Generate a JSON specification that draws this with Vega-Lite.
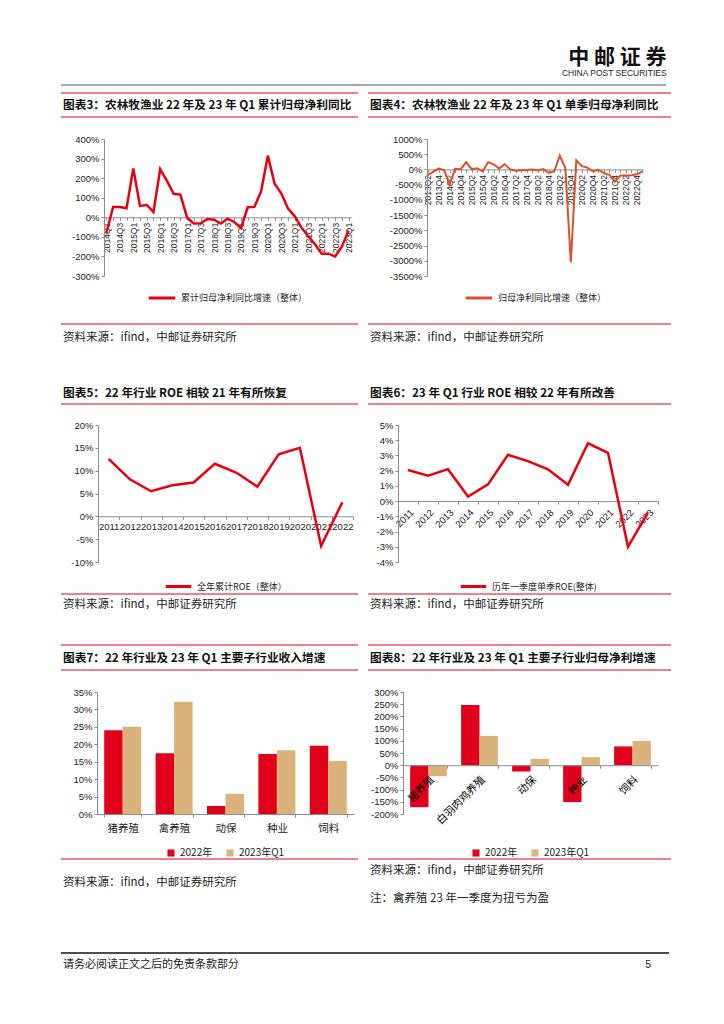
{
  "$schema": "https://vega.github.io/schema/vega-lite/v6.json",
  "padding": {"left": 60, "top": 46, "right": 0, "bottom": 0},
  "background": "white",
  "datasets": {
    "c3": [
      {"q": "2014Q1", "v": -80}, {"q": "2014Q2", "v": 53}, {"q": "2014Q3", "v": 53}, {"q": "2014Q4", "v": 46},
      {"q": "2015Q1", "v": 250}, {"q": "2015Q2", "v": 58}, {"q": "2015Q3", "v": 63}, {"q": "2015Q4", "v": 27},
      {"q": "2016Q1", "v": 246}, {"q": "2016Q2", "v": 186}, {"q": "2016Q3", "v": 120}, {"q": "2016Q4", "v": 116},
      {"q": "2017Q1", "v": -2}, {"q": "2017Q2", "v": -32}, {"q": "2017Q3", "v": -31}, {"q": "2017Q4", "v": -9},
      {"q": "2018Q1", "v": -12}, {"q": "2018Q2", "v": -32}, {"q": "2018Q3", "v": -7}, {"q": "2018Q4", "v": -24},
      {"q": "2019Q1", "v": -55}, {"q": "2019Q2", "v": 51}, {"q": "2019Q3", "v": 53}, {"q": "2019Q4", "v": 133},
      {"q": "2020Q1", "v": 315}, {"q": "2020Q2", "v": 171}, {"q": "2020Q3", "v": 121}, {"q": "2020Q4", "v": 44},
      {"q": "2021Q1", "v": 5}, {"q": "2021Q2", "v": -53}, {"q": "2021Q3", "v": -97}, {"q": "2021Q4", "v": -138},
      {"q": "2022Q1", "v": -186}, {"q": "2022Q2", "v": -186}, {"q": "2022Q3", "v": -200}, {"q": "2022Q4", "v": -149},
      {"q": "2023Q1", "v": -67}
    ],
    "c4": [
      {"q": "2013Q2", "v": -190}, {"q": "2013Q3", "v": -80}, {"q": "2013Q4", "v": 30},
      {"q": "2014Q1", "v": -20}, {"q": "2014Q2", "v": -500}, {"q": "2014Q3", "v": 20}, {"q": "2014Q4", "v": 10},
      {"q": "2015Q1", "v": 240}, {"q": "2015Q2", "v": 10}, {"q": "2015Q3", "v": 40}, {"q": "2015Q4", "v": -60},
      {"q": "2016Q1", "v": 240}, {"q": "2016Q2", "v": 170}, {"q": "2016Q3", "v": 30}, {"q": "2016Q4", "v": 170},
      {"q": "2017Q1", "v": 0}, {"q": "2017Q2", "v": -40}, {"q": "2017Q3", "v": -30}, {"q": "2017Q4", "v": -20},
      {"q": "2018Q1", "v": 0}, {"q": "2018Q2", "v": -30}, {"q": "2018Q3", "v": 10}, {"q": "2018Q4", "v": -110},
      {"q": "2019Q1", "v": -60}, {"q": "2019Q2", "v": 450}, {"q": "2019Q3", "v": 50}, {"q": "2019Q4", "v": -3050},
      {"q": "2020Q1", "v": 300}, {"q": "2020Q2", "v": 110}, {"q": "2020Q3", "v": 60}, {"q": "2020Q4", "v": -60},
      {"q": "2021Q1", "v": -10}, {"q": "2021Q2", "v": -120}, {"q": "2021Q3", "v": -180}, {"q": "2021Q4", "v": -400},
      {"q": "2022Q1", "v": -200}, {"q": "2022Q2", "v": -200}, {"q": "2022Q3", "v": -190}, {"q": "2022Q4", "v": -160},
      {"q": "2023Q1", "v": -70}
    ],
    "c5": [
      {"year": "2011", "roe": 12.6}, {"year": "2012", "roe": 8.1}, {"year": "2013", "roe": 5.5},
      {"year": "2014", "roe": 6.8}, {"year": "2015", "roe": 7.4}, {"year": "2016", "roe": 11.5},
      {"year": "2017", "roe": 9.6}, {"year": "2018", "roe": 6.5}, {"year": "2019", "roe": 13.6},
      {"year": "2020", "roe": 15.0}, {"year": "2021", "roe": -6.5}, {"year": "2022", "roe": 3.1}
    ],
    "c6": [
      {"year": "2011", "roe": 2.04}, {"year": "2012", "roe": 1.67}, {"year": "2013", "roe": 2.1},
      {"year": "2014", "roe": 0.3}, {"year": "2015", "roe": 1.1}, {"year": "2016", "roe": 3.04},
      {"year": "2017", "roe": 2.63}, {"year": "2018", "roe": 2.09}, {"year": "2019", "roe": 1.07},
      {"year": "2020", "roe": 3.8}, {"year": "2021", "roe": 3.17}, {"year": "2022", "roe": -3.0},
      {"year": "2023", "roe": -0.74}
    ],
    "c7": [
      {"seg": "猪养殖", "series": "2022年", "v": 24.0}, {"seg": "猪养殖", "series": "2023年Q1", "v": 25.0},
      {"seg": "禽养殖", "series": "2022年", "v": 17.4}, {"seg": "禽养殖", "series": "2023年Q1", "v": 32.2},
      {"seg": "动保", "series": "2022年", "v": 2.3}, {"seg": "动保", "series": "2023年Q1", "v": 5.8},
      {"seg": "种业", "series": "2022年", "v": 17.2}, {"seg": "种业", "series": "2023年Q1", "v": 18.3},
      {"seg": "饲料", "series": "2022年", "v": 19.6}, {"seg": "饲料", "series": "2023年Q1", "v": 15.2}
    ],
    "c8": [
      {"seg": "猪养殖", "series": "2022年", "v": -172}, {"seg": "猪养殖", "series": "2023年Q1", "v": -45},
      {"seg": "白羽肉鸡养殖", "series": "2022年", "v": 247}, {"seg": "白羽肉鸡养殖", "series": "2023年Q1", "v": 120},
      {"seg": "动保", "series": "2022年", "v": -26}, {"seg": "动保", "series": "2023年Q1", "v": 26},
      {"seg": "种业", "series": "2022年", "v": -151}, {"seg": "种业", "series": "2023年Q1", "v": 33},
      {"seg": "饲料", "series": "2022年", "v": 77}, {"seg": "饲料", "series": "2023年Q1", "v": 100}
    ]
  },
  "columns": 1,
  "align": "none",
  "spacing": 6,
  "concat": [
    {
      "width": 605, "height": 1,
      "title": {"text": "中 邮 证 券", "subtitle": "CHINA POST SECURITIES", "anchor": "end", "font": "Noto Sans CJK SC", "fontWeight": "bold", "fontSize": 21, "color": "#111", "subtitleFont": "Liberation Sans", "subtitleFontSize": 8.5, "subtitleColor": "#222", "subtitlePadding": 1, "offset": 7},
      "data": {"values": [{}]},
      "mark": {"type": "rule", "color": "#555", "strokeWidth": 1.2},
      "encoding": {"y": {"datum": 0, "scale": {"domain": [0, 1]}, "axis": null}}
    },
    {
      "spacing": 8,
      "resolve": {"scale": {"x": "independent", "y": "independent", "color": "independent", "xOffset": "independent"}, "legend": {"color": "independent"}},
      "hconcat": [
        {
          "columns": 1,
          "align": "none",
          "spacing": 0,
          "resolve": {"scale": {"x": "independent", "y": "independent", "color": "independent", "xOffset": "independent"}, "legend": {"color": "independent"}},
          "concat": [
            {
              "width": 297, "height": 24,
              "data": {"values": [{"t": "图表3：农林牧渔业 22 年及 23 年 Q1 累计归母净利同比"}]},
              "layer": [
                {"mark": {"type": "rule", "color": "#E0001A", "strokeWidth": 1.2}, "encoding": {"y": {"datum": 0, "scale": {"domain": [0, 1]}, "axis": null}}},
                {"mark": {"type": "rule", "color": "#E0001A", "strokeWidth": 1.2}, "encoding": {"y": {"datum": 1, "scale": {"domain": [0, 1]}, "axis": null}}},
                {"mark": {"type": "text", "align": "left", "baseline": "middle", "font": "Noto Sans CJK SC", "fontWeight": "bold", "fontSize": 11.7, "color": "#111", "dx": 2}, "encoding": {"text": {"field": "t"}, "x": {"datum": 0, "scale": {"domain": [0, 1]}, "axis": null}, "y": {"datum": 0.5, "scale": {"domain": [0, 1]}, "axis": null}}}
              ]
            },
            {
              "spacing": 0,
              "resolve": {"scale": {"x": "independent", "y": "independent", "color": "independent"}, "legend": {"color": "independent"}},
              "hconcat": [
                {"width": 1, "height": 1, "data": {"values": [{}]}, "mark": {"type": "rule", "opacity": 0}, "encoding": {"y": {"datum": 0, "scale": {"domain": [0, 1]}, "axis": null}}},
                {
                  "width": 247, "height": 137,
                  "title": {"text": " ", "fontSize": 1, "offset": 15},
                  "data": {"name": "c3"},
                  "mark": {"type": "line", "strokeWidth": 2.5},
                  "encoding": {
                    "x": {"field": "q", "type": "ordinal", "sort": null, "title": null, "scale": {"type": "point", "padding": 0.35},
                      "axis": {"offset": -58.7, "labelAngle": -90, "labelFontSize": 8.5, "labelOverlap": false, "labelPadding": 2, "labelExpr": "indexof(datum.label, 'Q1') >= 0 || indexof(datum.label, 'Q3') >= 0 ? datum.label : ''"}},
                    "y": {"field": "v", "type": "quantitative", "title": null, "scale": {"domain": [-300, 400], "nice": false},
                      "axis": {"values": [-300, -200, -100, 0, 100, 200, 300, 400], "labelExpr": "datum.value + '%'", "minExtent": 42}},
                    "color": {"datum": "累计归母净利同比增速（整体）", "type": "nominal", "scale": {"range": ["#E60012"]},
                      "legend": {"title": null, "orient": "bottom", "offset": 7, "symbolType": "stroke", "symbolSize": 700, "symbolStrokeWidth": 3}}
                  }
                }
              ]
            },
            {
              "width": 297, "height": 28,
              "title": {"text": " ", "fontSize": 1, "offset": 18},
              "data": {"values": [{"t": "资料来源：ifind，中邮证券研究所"}]},
              "layer": [
                {"mark": {"type": "rule", "color": "#E0001A", "strokeWidth": 1}, "encoding": {"y": {"datum": 1, "scale": {"domain": [0, 1]}, "axis": null}}},
                {"mark": {"type": "text", "align": "left", "baseline": "middle", "font": "Noto Sans CJK SC", "fontSize": 11.5, "color": "#222", "dx": 2}, "encoding": {"text": {"field": "t"}, "x": {"datum": 0, "scale": {"domain": [0, 1]}, "axis": null}, "y": {"datum": 0.5, "scale": {"domain": [0, 1]}, "axis": null}}}
              ]
            },
            {
              "width": 297, "height": 22,
              "title": {"text": " ", "fontSize": 1, "offset": 29},
              "data": {"values": [{"t": "图表5：22 年行业 ROE 相较 21 年有所恢复"}]},
              "layer": [
                {"mark": {"type": "rule", "color": "#E0001A", "strokeWidth": 1.2}, "encoding": {"y": {"datum": 0, "scale": {"domain": [0, 1]}, "axis": null}}},
                {"mark": {"type": "text", "align": "left", "baseline": "middle", "font": "Noto Sans CJK SC", "fontWeight": "bold", "fontSize": 11.7, "color": "#111", "dx": 2}, "encoding": {"text": {"field": "t"}, "x": {"datum": 0, "scale": {"domain": [0, 1]}, "axis": null}, "y": {"datum": 0.5, "scale": {"domain": [0, 1]}, "axis": null}}}
              ]
            },
            {
              "spacing": 0,
              "resolve": {"scale": {"x": "independent", "y": "independent", "color": "independent"}, "legend": {"color": "independent"}},
              "hconcat": [
                {"width": 1, "height": 1, "data": {"values": [{}]}, "mark": {"type": "rule", "opacity": 0}, "encoding": {"y": {"datum": 0, "scale": {"domain": [0, 1]}, "axis": null}}},
                {
                  "width": 255, "height": 137,
                  "title": {"text": " ", "fontSize": 1, "offset": 14},
                  "data": {"name": "c5"},
                  "mark": {"type": "line", "strokeWidth": 2.5},
                  "encoding": {
                    "x": {"field": "year", "type": "ordinal", "sort": null, "title": null, "bandPosition": 0.5, "scale": {"type": "band", "paddingInner": 0, "paddingOuter": 0},
                      "axis": {"offset": -45.7, "labelAngle": 0, "labelFontSize": 9.5, "labelOverlap": false, "labelPadding": 2, "tickBand": "extent"}},
                    "y": {"field": "roe", "type": "quantitative", "title": null, "scale": {"domain": [-10, 20], "nice": false},
                      "axis": {"values": [-10, -5, 0, 5, 10, 15, 20], "labelExpr": "datum.value + '%'", "minExtent": 36}},
                    "color": {"datum": "全年累计ROE（整体）", "type": "nominal", "scale": {"range": ["#E60012"]},
                      "legend": {"title": null, "orient": "bottom", "offset": 10, "symbolType": "stroke", "symbolSize": 650, "symbolStrokeWidth": 3}}
                  }
                }
              ]
            },
            {
              "width": 297, "height": 22,
              "data": {"values": [{"t": "资料来源：ifind，中邮证券研究所"}]},
              "layer": [
                {"mark": {"type": "rule", "color": "#E0001A", "strokeWidth": 1}, "encoding": {"y": {"datum": 1, "scale": {"domain": [0, 1]}, "axis": null}}},
                {"mark": {"type": "text", "align": "left", "baseline": "middle", "font": "Noto Sans CJK SC", "fontSize": 11.5, "color": "#222", "dx": 2}, "encoding": {"text": {"field": "t"}, "x": {"datum": 0, "scale": {"domain": [0, 1]}, "axis": null}, "y": {"datum": 0.5, "scale": {"domain": [0, 1]}, "axis": null}}}
              ]
            },
            {
              "width": 297, "height": 25,
              "title": {"text": " ", "fontSize": 1, "offset": 27},
              "data": {"values": [{"t": "图表7：22 年行业及 23 年 Q1 主要子行业收入增速"}]},
              "layer": [
                {"mark": {"type": "rule", "color": "#E0001A", "strokeWidth": 1.2}, "encoding": {"y": {"datum": 0, "scale": {"domain": [0, 1]}, "axis": null}}},
                {"mark": {"type": "rule", "color": "#E0001A", "strokeWidth": 1.2}, "encoding": {"y": {"datum": 1, "scale": {"domain": [0, 1]}, "axis": null}}},
                {"mark": {"type": "text", "align": "left", "baseline": "middle", "font": "Noto Sans CJK SC", "fontWeight": "bold", "fontSize": 11.7, "color": "#111", "dx": 2}, "encoding": {"text": {"field": "t"}, "x": {"datum": 0, "scale": {"domain": [0, 1]}, "axis": null}, "y": {"datum": 0.5, "scale": {"domain": [0, 1]}, "axis": null}}}
              ]
            },
            {
              "spacing": 0,
              "resolve": {"scale": {"x": "independent", "y": "independent", "color": "independent", "xOffset": "independent"}, "legend": {"color": "independent"}},
              "hconcat": [
                {"width": 1, "height": 1, "data": {"values": [{}]}, "mark": {"type": "rule", "opacity": 0}, "encoding": {"y": {"datum": 0, "scale": {"domain": [0, 1]}, "axis": null}}},
                {
                  "width": 257, "height": 122,
                  "title": {"text": " ", "fontSize": 1, "offset": 15},
                  "data": {"name": "c7"},
                  "mark": {"type": "bar"},
                  "encoding": {
                    "x": {"field": "seg", "type": "nominal", "sort": null, "title": null, "scale": {"paddingInner": 0.28, "paddingOuter": 0.14},
                      "axis": {"labelAngle": 0, "labelFont": "Noto Sans CJK SC", "labelFontSize": 10.5, "labelPadding": 6, "tickBand": "extent"}},
                    "xOffset": {"field": "series", "type": "nominal", "sort": ["2022年", "2023年Q1"]},
                    "y": {"field": "v", "type": "quantitative", "title": null, "scale": {"domain": [0, 35], "nice": false},
                      "axis": {"values": [0, 5, 10, 15, 20, 25, 30, 35], "labelExpr": "datum.value + '%'", "minExtent": 35}},
                    "color": {"field": "series", "type": "nominal", "scale": {"domain": ["2022年", "2023年Q1"], "range": ["#E0001B", "#D9B27C"]},
                      "legend": {"title": null, "orient": "bottom", "offset": 14, "symbolType": "square", "symbolSize": 50, "labelFontSize": 10, "columnPadding": 12}}
                  }
                }
              ]
            },
            {
              "width": 297, "height": 52,
              "data": {"values": [{"t": "资料来源：ifind，中邮证券研究所"}]},
              "layer": [
                {"mark": {"type": "rule", "color": "#E0001A", "strokeWidth": 1}, "encoding": {"y": {"datum": 1, "scale": {"domain": [0, 1]}, "axis": null}}},
                {"mark": {"type": "text", "align": "left", "baseline": "middle", "font": "Noto Sans CJK SC", "fontSize": 11.5, "color": "#222", "dx": 2}, "encoding": {"text": {"field": "t"}, "x": {"datum": 0, "scale": {"domain": [0, 1]}, "axis": null}, "y": {"datum": 0.54, "scale": {"domain": [0, 1]}, "axis": null}}}
              ]
            }
          ]
        },
        {
          "columns": 1,
          "align": "none",
          "spacing": 0,
          "resolve": {"scale": {"x": "independent", "y": "independent", "color": "independent", "xOffset": "independent"}, "legend": {"color": "independent"}},
          "concat": [
            {
              "width": 303, "height": 24,
              "data": {"values": [{"t": "图表4：农林牧渔业 22 年及 23 年 Q1 单季归母净利同比"}]},
              "layer": [
                {"mark": {"type": "rule", "color": "#E0001A", "strokeWidth": 1.2}, "encoding": {"y": {"datum": 0, "scale": {"domain": [0, 1]}, "axis": null}}},
                {"mark": {"type": "rule", "color": "#E0001A", "strokeWidth": 1.2}, "encoding": {"y": {"datum": 1, "scale": {"domain": [0, 1]}, "axis": null}}},
                {"mark": {"type": "text", "align": "left", "baseline": "middle", "font": "Noto Sans CJK SC", "fontWeight": "bold", "fontSize": 11.7, "color": "#111", "dx": 2}, "encoding": {"text": {"field": "t"}, "x": {"datum": 0, "scale": {"domain": [0, 1]}, "axis": null}, "y": {"datum": 0.5, "scale": {"domain": [0, 1]}, "axis": null}}}
              ]
            },
            {
              "spacing": 0,
              "resolve": {"scale": {"x": "independent", "y": "independent", "color": "independent"}, "legend": {"color": "independent"}},
              "hconcat": [
                {"width": 1, "height": 1, "data": {"values": [{}]}, "mark": {"type": "rule", "opacity": 0}, "encoding": {"y": {"datum": 0, "scale": {"domain": [0, 1]}, "axis": null}}},
                {
                  "width": 216, "height": 137,
                  "title": {"text": " ", "fontSize": 1, "offset": 15},
                  "data": {"name": "c4"},
                  "mark": {"type": "line", "strokeWidth": 2},
                  "encoding": {
                    "x": {"field": "q", "type": "ordinal", "sort": null, "title": null, "scale": {"type": "point", "padding": 0.1},
                      "axis": {"offset": -106.6, "labelAngle": -90, "labelFontSize": 8.5, "labelOverlap": false, "labelPadding": 2, "labelExpr": "indexof(datum.label, 'Q2') >= 0 || indexof(datum.label, 'Q4') >= 0 ? datum.label : ''"}},
                    "y": {"field": "v", "type": "quantitative", "title": null, "scale": {"domain": [-3500, 1000], "nice": false},
                      "axis": {"values": [-3500, -3000, -2500, -2000, -1500, -1000, -500, 0, 500, 1000], "labelExpr": "datum.value + '%'", "minExtent": 58}},
                    "color": {"datum": "归母净利同比增速（整体）", "type": "nominal", "scale": {"range": ["#D9502B"]},
                      "legend": {"title": null, "orient": "bottom", "offset": 7, "symbolType": "stroke", "symbolSize": 700, "symbolStrokeWidth": 3}}
                  }
                }
              ]
            },
            {
              "width": 303, "height": 28,
              "title": {"text": " ", "fontSize": 1, "offset": 18},
              "data": {"values": [{"t": "资料来源：ifind，中邮证券研究所"}]},
              "layer": [
                {"mark": {"type": "rule", "color": "#E0001A", "strokeWidth": 1}, "encoding": {"y": {"datum": 1, "scale": {"domain": [0, 1]}, "axis": null}}},
                {"mark": {"type": "text", "align": "left", "baseline": "middle", "font": "Noto Sans CJK SC", "fontSize": 11.5, "color": "#222", "dx": 2}, "encoding": {"text": {"field": "t"}, "x": {"datum": 0, "scale": {"domain": [0, 1]}, "axis": null}, "y": {"datum": 0.5, "scale": {"domain": [0, 1]}, "axis": null}}}
              ]
            },
            {
              "width": 303, "height": 22,
              "title": {"text": " ", "fontSize": 1, "offset": 29},
              "data": {"values": [{"t": "图表6：23 年 Q1 行业 ROE 相较 22 年有所改善"}]},
              "layer": [
                {"mark": {"type": "rule", "color": "#E0001A", "strokeWidth": 1.2}, "encoding": {"y": {"datum": 0, "scale": {"domain": [0, 1]}, "axis": null}}},
                {"mark": {"type": "text", "align": "left", "baseline": "middle", "font": "Noto Sans CJK SC", "fontWeight": "bold", "fontSize": 11.7, "color": "#111", "dx": 2}, "encoding": {"text": {"field": "t"}, "x": {"datum": 0, "scale": {"domain": [0, 1]}, "axis": null}, "y": {"datum": 0.5, "scale": {"domain": [0, 1]}, "axis": null}}}
              ]
            },
            {
              "spacing": 0,
              "resolve": {"scale": {"x": "independent", "y": "independent", "color": "independent"}, "legend": {"color": "independent"}},
              "hconcat": [
                {"width": 1, "height": 1, "data": {"values": [{}]}, "mark": {"type": "rule", "opacity": 0}, "encoding": {"y": {"datum": 0, "scale": {"domain": [0, 1]}, "axis": null}}},
                {
                  "width": 260, "height": 137,
                  "title": {"text": " ", "fontSize": 1, "offset": 14},
                  "data": {"name": "c6"},
                  "mark": {"type": "line", "strokeWidth": 2.5},
                  "encoding": {
                    "x": {"field": "year", "type": "ordinal", "sort": null, "title": null, "bandPosition": 0.5, "scale": {"type": "band", "paddingInner": 0, "paddingOuter": 0},
                      "axis": {"offset": -60.9, "labelAngle": -45, "labelFontSize": 9.5, "labelOverlap": false, "labelPadding": 3, "tickBand": "extent"}},
                    "y": {"field": "roe", "type": "quantitative", "title": null, "scale": {"domain": [-4, 5], "nice": false},
                      "axis": {"values": [-4, -3, -2, -1, 0, 1, 2, 3, 4, 5], "labelExpr": "datum.value + '%'", "minExtent": 29}},
                    "color": {"datum": "历年一季度单季ROE(整体)", "type": "nominal", "scale": {"range": ["#E60012"]},
                      "legend": {"title": null, "orient": "bottom", "offset": 10, "symbolType": "stroke", "symbolSize": 650, "symbolStrokeWidth": 3}}
                  }
                }
              ]
            },
            {
              "width": 303, "height": 22,
              "data": {"values": [{"t": "资料来源：ifind，中邮证券研究所"}]},
              "layer": [
                {"mark": {"type": "rule", "color": "#E0001A", "strokeWidth": 1}, "encoding": {"y": {"datum": 1, "scale": {"domain": [0, 1]}, "axis": null}}},
                {"mark": {"type": "text", "align": "left", "baseline": "middle", "font": "Noto Sans CJK SC", "fontSize": 11.5, "color": "#222", "dx": 2}, "encoding": {"text": {"field": "t"}, "x": {"datum": 0, "scale": {"domain": [0, 1]}, "axis": null}, "y": {"datum": 0.5, "scale": {"domain": [0, 1]}, "axis": null}}}
              ]
            },
            {
              "width": 303, "height": 25,
              "title": {"text": " ", "fontSize": 1, "offset": 27},
              "data": {"values": [{"t": "图表8：22 年行业及 23 年 Q1 主要子行业归母净利增速"}]},
              "layer": [
                {"mark": {"type": "rule", "color": "#E0001A", "strokeWidth": 1.2}, "encoding": {"y": {"datum": 0, "scale": {"domain": [0, 1]}, "axis": null}}},
                {"mark": {"type": "rule", "color": "#E0001A", "strokeWidth": 1.2}, "encoding": {"y": {"datum": 1, "scale": {"domain": [0, 1]}, "axis": null}}},
                {"mark": {"type": "text", "align": "left", "baseline": "middle", "font": "Noto Sans CJK SC", "fontWeight": "bold", "fontSize": 11.7, "color": "#111", "dx": 2}, "encoding": {"text": {"field": "t"}, "x": {"datum": 0, "scale": {"domain": [0, 1]}, "axis": null}, "y": {"datum": 0.5, "scale": {"domain": [0, 1]}, "axis": null}}}
              ]
            },
            {
              "spacing": 0,
              "resolve": {"scale": {"x": "independent", "y": "independent", "color": "independent", "xOffset": "independent"}, "legend": {"color": "independent"}},
              "hconcat": [
                {"width": 1, "height": 1, "data": {"values": [{}]}, "mark": {"type": "rule", "opacity": 0}, "encoding": {"y": {"datum": 0, "scale": {"domain": [0, 1]}, "axis": null}}},
                {
                  "width": 255, "height": 122,
                  "title": {"text": " ", "fontSize": 1, "offset": 15},
                  "data": {"name": "c8"},
                  "mark": {"type": "bar"},
                  "encoding": {
                    "x": {"field": "seg", "type": "nominal", "sort": null, "title": null, "scale": {"paddingInner": 0.28, "paddingOuter": 0.14},
                      "axis": {"offset": -48.8, "labelAngle": -45, "labelFont": "Noto Sans CJK SC", "labelFontSize": 10.5, "labelColor": "#000", "labelPadding": 6, "tickBand": "extent", "zindex": 1}},
                    "xOffset": {"field": "series", "type": "nominal", "sort": ["2022年", "2023年Q1"]},
                    "y": {"field": "v", "type": "quantitative", "title": null, "scale": {"domain": [-200, 300], "nice": false},
                      "axis": {"values": [-200, -150, -100, -50, 0, 50, 100, 150, 200, 250, 300], "labelExpr": "datum.value + '%'", "minExtent": 34}},
                    "color": {"field": "series", "type": "nominal", "scale": {"domain": ["2022年", "2023年Q1"], "range": ["#E0001B", "#D9B27C"]},
                      "legend": {"title": null, "orient": "bottom", "offset": 21, "symbolType": "square", "symbolSize": 50, "labelFontSize": 10, "columnPadding": 12}}
                  }
                }
              ]
            },
            {
              "width": 303, "height": 52,
              "layer": [
                {"data": {"values": [{}]}, "mark": {"type": "rule", "color": "#E0001A", "strokeWidth": 1}, "encoding": {"y": {"datum": 1, "scale": {"domain": [0, 1]}, "axis": null}}},
                {"data": {"values": [{"t": "资料来源：ifind，中邮证券研究所"}]}, "mark": {"type": "text", "align": "left", "baseline": "middle", "font": "Noto Sans CJK SC", "fontSize": 11.5, "color": "#222", "dx": 2}, "encoding": {"text": {"field": "t"}, "x": {"datum": 0, "scale": {"domain": [0, 1]}, "axis": null}, "y": {"datum": 0.77, "scale": {"domain": [0, 1]}, "axis": null}}},
                {"data": {"values": [{"t": "注：禽养殖 23 年一季度为扭亏为盈"}]}, "mark": {"type": "text", "align": "left", "baseline": "middle", "font": "Noto Sans CJK SC", "fontSize": 11.5, "color": "#222", "dx": 2}, "encoding": {"text": {"field": "t"}, "x": {"datum": 0, "scale": {"domain": [0, 1]}, "axis": null}, "y": {"datum": 0.23, "scale": {"domain": [0, 1]}, "axis": null}}}
              ]
            }
          ]
        }
      ]
    },
    {
      "width": 608, "height": 20,
      "title": {"text": " ", "fontSize": 1, "offset": 34},
      "layer": [
        {"data": {"values": [{}]}, "mark": {"type": "rule", "color": "#111", "strokeWidth": 1.3}, "encoding": {"y": {"datum": 1, "scale": {"domain": [0, 1]}, "axis": null}}},
        {"data": {"values": [{"t": "请务必阅读正文之后的免责条款部分"}]}, "mark": {"type": "text", "align": "left", "baseline": "middle", "font": "Noto Sans CJK SC", "fontSize": 11, "color": "#222", "dx": 2}, "encoding": {"text": {"field": "t"}, "x": {"datum": 0, "scale": {"domain": [0, 1]}, "axis": null}, "y": {"datum": 0.4, "scale": {"domain": [0, 1]}, "axis": null}}},
        {"data": {"values": [{"t": "5"}]}, "mark": {"type": "text", "align": "right", "baseline": "middle", "font": "Liberation Sans", "fontSize": 10.5, "color": "#222", "dx": -18}, "encoding": {"text": {"field": "t"}, "x": {"datum": 1, "scale": {"domain": [0, 1]}, "axis": null}, "y": {"datum": 0.4, "scale": {"domain": [0, 1]}, "axis": null}}}
      ]
    }
  ],
  "config": {
    "view": {"stroke": null},
    "font": "Liberation Sans",
    "axis": {"labelFont": "Liberation Sans", "labelFontSize": 9.5, "labelColor": "#222", "domainColor": "#8c8c8c", "tickColor": "#8c8c8c", "tickSize": 3, "labelPadding": 2, "grid": false},
    "legend": {"labelFont": "Noto Sans CJK SC", "labelFontSize": 9, "labelColor": "#222", "layout": {"bottom": {"anchor": "middle", "bounds": "full"}}}
  }
}
